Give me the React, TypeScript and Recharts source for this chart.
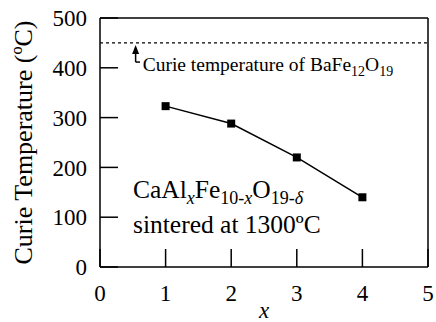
import React from "react"
import { LineChart, Line, XAxis, YAxis, ReferenceLine, ReferenceDot } from "recharts"

// Al content x and measured Curie temperature (ºC)
const alContent = [1, 2, 3, 4]
const curieTemps = [323, 288, 220, 140]
const xTicks = [0, 1, 2, 3, 4, 5]
const yTicks = [0, 100, 200, 300, 400, 500]
const innerXTicks = [1, 2, 3, 4]
const innerYTicks = [100, 200, 300, 400]
const baFeCurie = 450

const data = alContent.map((x, i) => ({ x, t: curieTemps[i] }))

const font = "Times New Roman, Liberation Serif, serif"

function SquareDot(props: any) {
  const { cx, cy } = props
  if (cx == null || cy == null) return null
  return <rect x={cx - 4} y={cy - 4} width={8} height={8} fill="#000" />
}

function ArrowHead(props: any) {
  const { cx, cy } = props
  return <path d={`M${cx},${cy} L${cx - 3.5},${cy + 9} L${cx + 3.5},${cy + 9} Z`} fill="#000" />
}

function XTick(props: any) {
  const { x, y, payload } = props
  return (
    <text x={x} y={y} dy="0.71em" textAnchor="middle" style={{ fontFamily: font, fontSize: 23 }} fill="#000">
      {payload.value}
    </text>
  )
}

function YTick(props: any) {
  const { x, y, payload } = props
  return (
    <text x={x} y={y} dy="0.355em" textAnchor="end" style={{ fontFamily: font, fontSize: 23 }} fill="#000">
      {payload.value}
    </text>
  )
}

function BaFeLabel(props: any) {
  const { cx, cy } = props
  return (
    <text x={cx} y={cy} style={{ fontFamily: font, fontSize: 19.5 }} fill="#000">
      Curie temperature of BaFe
      <tspan fontSize={14} dy={5}>12</tspan>
      <tspan dy={-5}>O</tspan>
      <tspan fontSize={14} dy={5}>19</tspan>
    </text>
  )
}

function FormulaLabel(props: any) {
  const { cx, cy } = props
  return (
    <text x={cx} y={cy} style={{ fontFamily: font, fontSize: 25.5 }} fill="#000">
      CaAl
      <tspan fontSize={18} dy={6} fontStyle="italic">x</tspan>
      <tspan dy={-6}>Fe</tspan>
      <tspan fontSize={18} dy={6}>10-</tspan>
      <tspan fontSize={18} fontStyle="italic">x</tspan>
      <tspan dy={-6}>O</tspan>
      <tspan fontSize={18} dy={6}>19-</tspan>
      <tspan fontSize={18} fontStyle="italic">δ</tspan>
    </text>
  )
}

function SinterLabel(props: any) {
  const { cx, cy } = props
  return (
    <text x={cx} y={cy} style={{ fontFamily: font, fontSize: 25.5 }} fill="#000">
      sintered at 1300ºC
    </text>
  )
}

export default function App() {
  const axisStyle = { stroke: "#000", strokeWidth: 1.5 }
  return (
    <div style={{ position: "absolute", left: 0, top: 0, background: "#fff" }}>
      <LineChart width={436} height={322} data={data} margin={{ top: 18, right: 8, bottom: 0, left: 0 }}>
        <XAxis
          xAxisId="b"
          dataKey="x"
          type="number"
          domain={[0, 5]}
          ticks={xTicks}
          height={55}
          axisLine={axisStyle}
          tickLine={axisStyle}
          tickSize={-18}
          tickMargin={36}
          tick={<XTick />}
          label={{
            value: "x",
            position: "insideBottom",
            offset: 4,
            style: { fill: "#000", fontSize: 23, fontFamily: font, fontStyle: "italic" },
          }}
        />
        <XAxis
          xAxisId="t"
          orientation="top"
          type="number"
          domain={[0, 5]}
          ticks={innerXTicks}
          height={1}
          mirror
          axisLine={axisStyle}
          tickLine={axisStyle}
          tickSize={18}
          tick={false}
        />
        <YAxis
          yAxisId="l"
          type="number"
          domain={[0, 500]}
          ticks={yTicks}
          width={100}
          axisLine={axisStyle}
          tickLine={axisStyle}
          tickSize={-18}
          tickMargin={31}
          tick={<YTick />}
          label={{
            value: "Curie Temperature (ºC)",
            angle: -90,
            position: "insideLeft",
            offset: 23,
            style: { fill: "#000", fontSize: 26, fontFamily: font, textAnchor: "middle" },
          }}
        />
        <YAxis
          yAxisId="r"
          orientation="right"
          type="number"
          domain={[0, 500]}
          ticks={innerYTicks}
          width={1}
          mirror
          axisLine={axisStyle}
          tickLine={axisStyle}
          tickSize={18}
          tick={false}
        />
        <ReferenceLine xAxisId="b" yAxisId="l" y={baFeCurie} stroke="#000" strokeWidth={1.2} strokeDasharray="3 3" />
        <ReferenceLine
          xAxisId="b"
          yAxisId="l"
          segment={[{ x: 0.543, y: 411.5 }, { x: 0.543, y: 440 }]}
          stroke="#000"
          strokeWidth={1.5}
        />
        <ReferenceLine
          xAxisId="b"
          yAxisId="l"
          segment={[{ x: 0.543, y: 411.5 }, { x: 0.61, y: 411.5 }]}
          stroke="#000"
          strokeWidth={1.5}
        />
        <ReferenceDot xAxisId="b" yAxisId="l" x={0.543} y={446} shape={ArrowHead} />
        <ReferenceDot xAxisId="b" yAxisId="l" x={0.65} y={394} shape={BaFeLabel} />
        <ReferenceDot xAxisId="b" yAxisId="l" x={0.503} y={138.5} shape={FormulaLabel} />
        <ReferenceDot xAxisId="b" yAxisId="l" x={0.503} y={67.6} shape={SinterLabel} />
        <Line
          xAxisId="b"
          yAxisId="l"
          dataKey="t"
          stroke="#000"
          strokeWidth={1.5}
          dot={<SquareDot />}
          activeDot={false}
          isAnimationActive={false}
        />
      </LineChart>
    </div>
  )
}
